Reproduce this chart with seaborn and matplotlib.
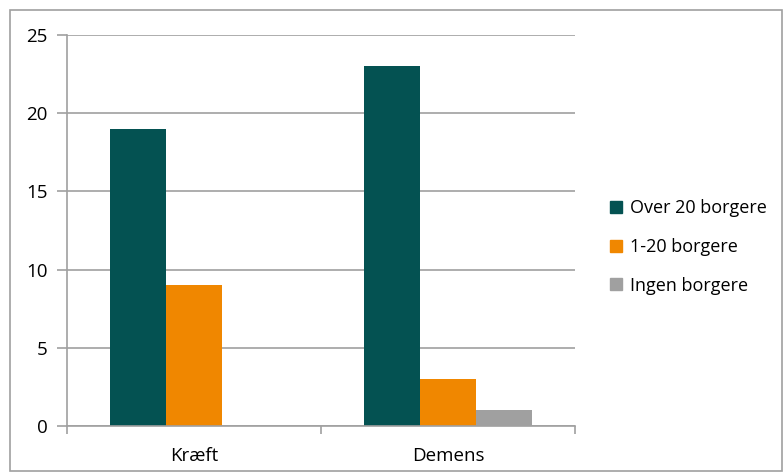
import pandas as pd
import matplotlib
matplotlib.use('Agg')
import matplotlib.pyplot as plt
import seaborn as sns
from matplotlib.patches import Rectangle

sns.set_style('white')
plt.rcParams['font.family'] = ['Open Sans', 'DejaVu Sans']
plt.rcParams['text.color'] = 'black'
plt.rcParams['xtick.color'] = 'black'
plt.rcParams['ytick.color'] = 'black'

categories = ['Kræft', 'Demens']
series = ['Over 20 borgere', '1-20 borgere', 'Ingen borgere']
over_20 = [19, 23]
one_to_20 = [9, 3]
ingen = [0, 1]
colors = ['#045252', '#F08700', '#A0A0A0']

df = pd.DataFrame({
    'kategori': categories * 3,
    'gruppe': [series[0]] * 2 + [series[1]] * 2 + [series[2]] * 2,
    'antal': over_20 + one_to_20 + ingen,
})

fig = plt.figure(figsize=(7.84, 4.73), dpi=100)
ax = fig.add_axes([67 / 784, 1 - 426 / 473, (575 - 67) / 784, (426 - 35) / 473])

sns.barplot(data=df, x='kategori', y='antal', hue='gruppe', hue_order=series,
            palette=colors, width=0.66, gap=0, saturation=1, ax=ax,
            edgecolor='none', linewidth=0)

ax.set_ylim(0, 25)
ax.set_xlim(-0.5, 1.5)
ax.set_yticks(range(0, 26, 5))
ax.yaxis.grid(True, color='#A0A0A0', linewidth=1.2)
ax.set_axisbelow(True)
for side in ['top', 'right']:
    ax.spines[side].set_visible(False)
for side in ['left', 'bottom']:
    ax.spines[side].set_color('#A0A0A0')
    ax.spines[side].set_linewidth(1.2)

ax.set_xticks([-0.5, 0.5, 1.5], minor=False)
ax.set_xticklabels([])
ax.set_xticks([0, 1], minor=True)
ax.set_xticklabels(categories, minor=True)
ax.tick_params(axis='x', which='major', length=6, color='#A0A0A0', width=1.2, bottom=True)
ax.tick_params(axis='x', which='minor', length=0, labelsize=13.5, pad=15)
ax.tick_params(axis='y', length=7, color='#A0A0A0', width=1.2, left=True, labelsize=13.5, pad=7)
ax.set_xlabel('')
ax.set_ylabel('')

handles = [Rectangle((0, 0), 1, 1, color=c) for c in colors]
ax.get_legend().remove()
fig.legend(handles, series, loc='upper left', bbox_to_anchor=(594 / 784, 1 - 183 / 473),
           frameon=False, fontsize=13, handlelength=0.65, handleheight=0.65,
           handletextpad=0.45, labelspacing=1.15)

fig.patches.append(Rectangle((10 / 784, 2 / 473), 772 / 784, 461 / 473,
                             transform=fig.transFigure, fill=False,
                             edgecolor='#A0A0A0', linewidth=1.2))

plt.savefig('out.png', dpi=100)
plt.close()
